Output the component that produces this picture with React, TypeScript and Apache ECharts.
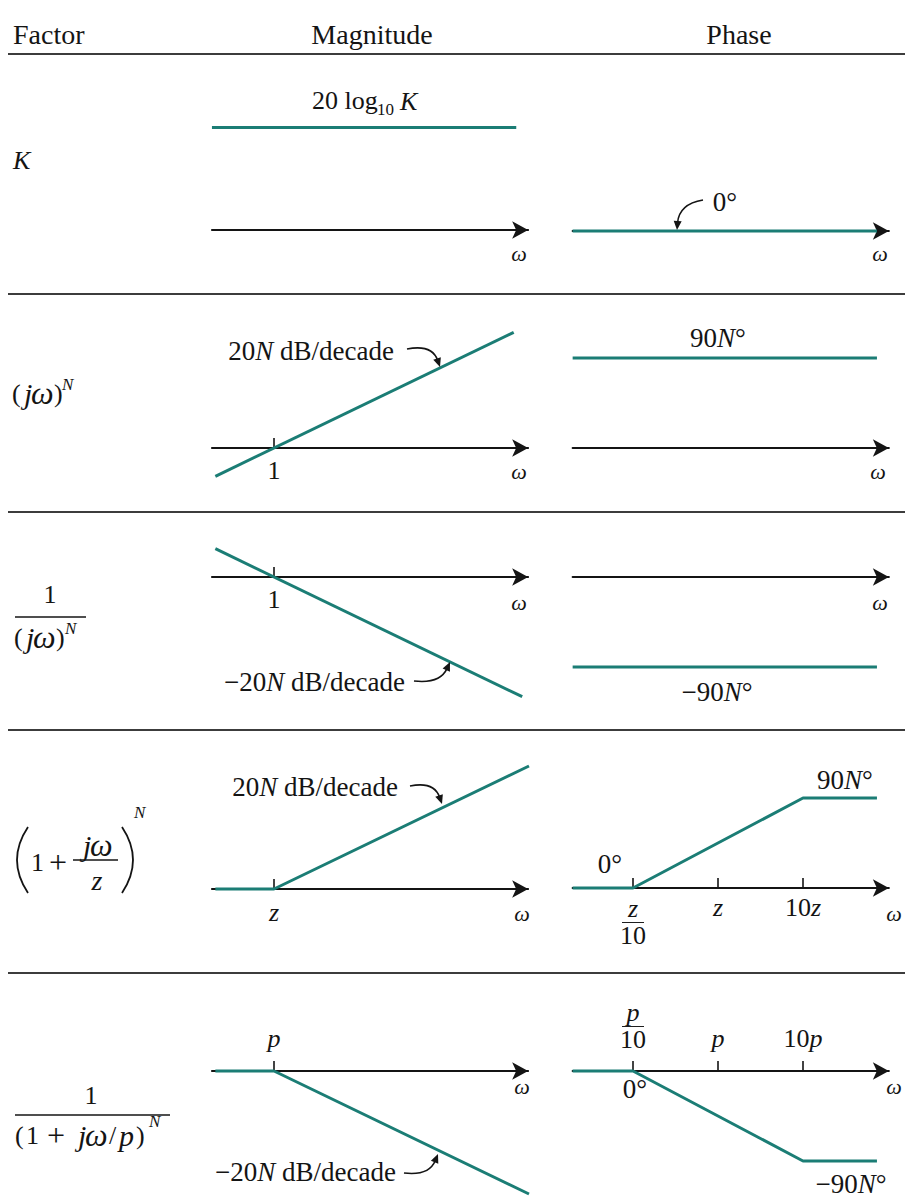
import React, { useEffect, useRef } from 'react';
import * as echarts from 'echarts';

const SERIF = '"Liberation Serif", "Times New Roman", "DejaVu Serif", serif';
const TEAL = '#1b7d75';
const INK = '#141414';
const RULE = '#3c3c3c';

// Column headings
const headings = ['Factor', 'Magnitude', 'Phase'];

// Straight-line Bode asymptotes, drawn for N = 1.
// x: decades relative to the corner frequency (1, z or p); magnitude in dB, phase in degrees.
const gainDb = 50; // 20 log10 K
const magConstant = [[-0.73, gainDb], [2.85, gainDb]];
const magDiff = [[-0.69, -13.8], [2.82, 56.4]];
const magInteg = [[-0.69, 13.8], [2.92, -58.4]];
const magZero = [[-0.69, 0], [0, 0], [3, 60]];
const magPole = [[-0.69, 0], [0, 0], [3, -60]];

const phaseConstant = [[-1.71, 0], [1.87, 0]];
const phaseDiff = [[-1.71, 90], [1.87, 90]];
const phaseInteg = [[-1.71, -90], [1.87, -90]];
const phaseZero = [[-1.71, 0], [-1, 0], [1, 90], [1.87, 90]];
const phasePole = [[-1.71, 0], [-1, 0], [1, -90], [1.87, -90]];

// Tick marks (decades) and their labels
const cornerTick = [0];
const decadeTicks = [-1, 0, 1];
const cornerLabels = ['1', '1', 'z', 'p'];
const zeroDecadeLabels = ['z/10', 'z', '10z'];
const poleDecadeLabels = ['p/10', 'p', '10p'];

// Layout (pixels)
const DECADE_PX = 85;
const DB_PX = 2.05;
const DEG_PX = 1;
const MAG_ORIGIN_X = 274;
const PHASE_ORIGIN_X = 718;
const MAG_X_RANGE = [-0.73, 2.99];
const PHASE_X_RANGE = [-1.71, 2.01];
const MAG_AXIS_Y = [230, 448, 577, 889, 1071];
const PHASE_AXIS_Y = [231, 448, 577, 888, 1071];
const RULES_Y = [54, 294, 512, 730, 973];

type Panel = {
  kind: 'mag' | 'phase';
  row: number;
  data: number[][];
  yMax: number; // the ω axis sits on the grid's bottom edge (value 0)
  ticks?: number[];
  labels?: string[];
  above?: boolean;
  margin?: number;
};

const panels: Panel[] = [
  { kind: 'mag', row: 0, data: magConstant, yMax: 60 },
  { kind: 'phase', row: 0, data: phaseConstant, yMax: 10 },
  { kind: 'mag', row: 1, data: magDiff, yMax: 60, ticks: cornerTick, labels: [cornerLabels[0]], margin: 10 },
  { kind: 'phase', row: 1, data: phaseDiff, yMax: 100 },
  { kind: 'mag', row: 2, data: magInteg, yMax: 20, ticks: cornerTick, labels: [cornerLabels[1]], margin: 10 },
  { kind: 'phase', row: 2, data: phaseInteg, yMax: 10 },
  { kind: 'mag', row: 3, data: magZero, yMax: 62, ticks: cornerTick, labels: [cornerLabels[2]], margin: 11 },
  { kind: 'phase', row: 3, data: phaseZero, yMax: 100, ticks: decadeTicks, labels: zeroDecadeLabels, margin: 7 },
  { kind: 'mag', row: 4, data: magPole, yMax: 10, ticks: cornerTick, labels: [cornerLabels[3]], above: true, margin: 21 },
  { kind: 'phase', row: 4, data: phasePole, yMax: 10, ticks: decadeTicks, labels: poleDecadeLabels, above: true, margin: 21 },
];

// "z/10" -> stacked fraction, "10z" -> upright digits + italic symbol
const toRich = (label: string) => {
  if (label.includes('/')) {
    const [num, den] = label.split('/');
    return `{n|${num}}\n{hr|}\n{d|${den}}`;
  }
  const m = label.match(/^(\d*)([a-z]*)$/);
  const digits = m ? m[1] : label;
  const sym = m ? m[2] : '';
  return (digits ? `{r|${digits}}` : '') + (sym ? `{i|${sym}}` : '');
};

const tickRich = {
  r: { color: INK, fontFamily: SERIF, fontSize: 26, lineHeight: 24 },
  i: { color: INK, fontFamily: SERIF, fontSize: 26, fontStyle: 'italic', lineHeight: 24 },
  n: { color: INK, fontFamily: SERIF, fontSize: 26, fontStyle: 'italic', lineHeight: 26 },
  hr: { width: 22, height: 0, borderColor: INK, borderWidth: 0.8, lineHeight: 3 },
  d: { color: INK, fontFamily: SERIF, fontSize: 26, lineHeight: 22 },
};

const annRich = (size: number) => ({
  r: { fill: INK, fontFamily: SERIF, fontSize: size },
  i: { fill: INK, fontFamily: SERIF, fontSize: size, fontStyle: 'italic' },
});

type TextOpt = { size?: number; italic?: boolean; align?: 'left' | 'center' | 'right'; rich?: any };

const text = (x: number, y: number, s: string, o: TextOpt = {}) => ({
  type: 'text',
  x,
  y,
  silent: true,
  z: 10,
  style: {
    text: s,
    fill: INK,
    fontFamily: SERIF,
    fontSize: o.size ?? 26,
    fontStyle: o.italic ? 'italic' : 'normal',
    align: o.align ?? 'left',
    textAlign: o.align ?? 'left',
    verticalAlign: 'middle',
    textVerticalAlign: 'middle',
    rich: o.rich,
  },
});

const hline = (x1: number, x2: number, y: number, w = 1.5, color = INK) => ({
  type: 'line',
  silent: true,
  z: 10,
  shape: { x1, y1: y, x2, y2: y },
  style: { stroke: color, lineWidth: w },
});

const curve = (x1: number, y1: number, cx: number, cy: number, x2: number, y2: number, w = 1.6) => ({
  type: 'bezierCurve',
  silent: true,
  z: 10,
  shape: { x1, y1, cpx1: cx, cpy1: cy, x2, y2 },
  style: { stroke: INK, lineWidth: w, fill: 'none' },
});

// Curved leader with a filled arrowhead ending at (tx, ty)
const leader = (sx: number, sy: number, cx: number, cy: number, tx: number, ty: number) => {
  const dx = tx - cx;
  const dy = ty - cy;
  const len = Math.hypot(dx, dy);
  const ux = dx / len;
  const uy = dy / len;
  const head = 9;
  const half = 4;
  const bx = tx - ux * head;
  const by = ty - uy * head;
  return [
    curve(sx, sy, cx, cy, bx + ux * 2, by + uy * 2),
    {
      type: 'polygon',
      silent: true,
      z: 10,
      shape: { points: [[tx, ty], [bx - uy * half, by + ux * half], [bx + uy * half, by - ux * half]] },
      style: { fill: INK },
    },
  ];
};

const omega = (x: number, y: number) => text(x, y, 'ω', { size: 22, italic: true, align: 'center' });

const buildOption = () => {
  const grid = panels.map((p) => {
    const mag = p.kind === 'mag';
    const [x0, x1] = mag ? MAG_X_RANGE : PHASE_X_RANGE;
    const ox = mag ? MAG_ORIGIN_X : PHASE_ORIGIN_X;
    const oy = (mag ? MAG_AXIS_Y : PHASE_AXIS_Y)[p.row];
    const k = mag ? DB_PX : DEG_PX;
    return {
      left: ox + x0 * DECADE_PX,
      width: (x1 - x0) * DECADE_PX,
      top: oy - p.yMax * k,
      height: p.yMax * k,
      containLabel: false,
      outerBoundsMode: 'none',
    };
  });

  const xAxis = panels.map((p, i) => {
    const [x0, x1] = p.kind === 'mag' ? MAG_X_RANGE : PHASE_X_RANGE;
    const ticks = p.ticks;
    const labels = p.labels ?? [];
    return {
      gridIndex: i,
      type: 'value',
      position: 'bottom',
      min: x0,
      max: x1,
      splitLine: { show: false },
      axisLine: {
        show: true,
        onZero: false,
        symbol: ['none', 'arrow'],
        symbolSize: [13, 16],
        lineStyle: { color: INK, width: 2 },
      },
      axisTick: ticks
        ? { show: true, inside: true, length: 10, customValues: ticks, lineStyle: { color: INK, width: 1.6 } }
        : { show: false },
      axisLabel: ticks
        ? {
            show: true,
            inside: !!p.above,
            margin: p.margin ?? 8,
            customValues: ticks,
            formatter: (v: number) => toRich(labels[ticks.indexOf(v)] ?? ''),
            rich: tickRich,
          }
        : { show: false },
    };
  });

  const yAxis = panels.map((p, i) => ({
    gridIndex: i,
    type: 'value',
    min: 0,
    max: p.yMax,
    show: false,
  }));

  const series = panels.map((p, i) => ({
    type: 'line',
    xAxisIndex: i,
    yAxisIndex: i,
    data: p.data,
    symbol: 'none',
    showSymbol: false,
    clip: false,
    silent: true,
    z: 3,
    lineStyle: { color: TEAL, width: 3 },
    emphasis: { disabled: true },
  }));

  const r27 = annRich(27);
  const elements: any[] = [
    // headings and rules
    text(13, 34, headings[0], { size: 28 }),
    text(372, 34, headings[1], { size: 28, align: 'center' }),
    text(739, 34, headings[2], { size: 28, align: 'center' }),
    ...RULES_Y.map((y) => hline(8, 905, y, 2, RULE)),

    // row 1: K
    text(13, 160, 'K', { italic: true }),
    text(312, 100, '20 log'),
    text(377, 109, '10', { size: 17 }),
    text(400, 101, 'K', { italic: true }),
    text(725, 202, '0°', { size: 27, align: 'center' }),
    ...leader(703, 200, 679, 204, 677, 230),
    omega(519, 253),
    omega(880, 253),

    // row 2: (jω)^N
    text(12, 393, '('),
    text(24, 393, 'j', { italic: true, size: 30 }),
    text(31, 393, 'ω', { italic: true, size: 32 }),
    text(54, 393, ')'),
    text(62, 384, 'N', { italic: true, size: 17 }),
    text(394, 351, '{r|20}{i|N}{r| dB/decade}', { size: 27, align: 'right', rich: r27 }),
    ...leader(407, 349, 432, 344, 440, 367),
    text(718, 338, '{r|90}{i|N}{r|°}', { size: 27, align: 'center', rich: r27 }),
    omega(519, 471),
    omega(878, 471),

    // row 3: 1/(jω)^N
    text(50, 594, '1', { align: 'center' }),
    hline(15, 86, 617),
    text(14, 637, '('),
    text(26, 637, 'j', { italic: true, size: 30 }),
    text(33, 637, 'ω', { italic: true, size: 32 }),
    text(56, 637, ')'),
    text(65, 628, 'N', { italic: true, size: 17 }),
    text(405, 682, '{r|\u221220}{i|N}{r| dB/decade}', { size: 27, align: 'right', rich: r27 }),
    ...leader(414, 681, 440, 684, 450, 662),
    text(717, 692, '{r|\u221290}{i|N}{r|°}', { size: 27, align: 'center', rich: r27 }),
    omega(519, 602),
    omega(880, 602),

    // row 4: (1 + jω/z)^N
    curve(28, 827, 6, 860, 28, 893, 1.8),
    curve(122, 827, 144, 860, 122, 893, 1.8),
    text(31, 862, '1'),
    text(49, 862, '+', { size: 32 }),
    text(83, 845, 'j', { italic: true, size: 30 }),
    text(90, 845, 'ω', { italic: true, size: 32 }),
    hline(73, 118, 860),
    text(97, 880, 'z', { italic: true, size: 28, align: 'center' }),
    text(134, 812, 'N', { italic: true, size: 17 }),
    text(398, 787, '{r|20}{i|N}{r| dB/decade}', { size: 27, align: 'right', rich: r27 }),
    ...leader(410, 786, 434, 781, 442, 804),
    text(610, 864, '0°', { size: 27, align: 'center' }),
    text(845, 780, '{r|90}{i|N}{r|°}', { size: 27, align: 'center', rich: r27 }),
    omega(522, 913),
    omega(894, 913),

    // row 5: 1/(1 + jω/p)^N
    text(91, 1095, '1', { align: 'center' }),
    hline(15, 170, 1115),
    text(15, 1135, '('),
    text(26, 1135, '1'),
    text(47, 1135, '+', { size: 32 }),
    text(78, 1135, 'j', { italic: true, size: 30 }),
    text(85, 1135, 'ω', { italic: true, size: 32 }),
    text(109, 1135, '/'),
    text(119, 1135, 'p', { italic: true, size: 30 }),
    text(136, 1135, ')'),
    text(149, 1121, 'N', { italic: true, size: 17 }),
    text(396, 1172, '{r|\u221220}{i|N}{r| dB/decade}', { size: 27, align: 'right', rich: r27 }),
    ...leader(404, 1173, 429, 1176, 438, 1154),
    text(635, 1089, '0°', { size: 27, align: 'center' }),
    text(851, 1184, '{r|\u221290}{i|N}{r|°}', { size: 27, align: 'center', rich: r27 }),
    omega(522, 1086),
    omega(894, 1086),
  ];

  return {
    animation: false,
    backgroundColor: '#ffffff',
    grid,
    xAxis,
    yAxis,
    series,
    graphic: { elements },
  };
};

export default function App() {
  const ref = useRef<HTMLDivElement>(null);
  useEffect(() => {
    if (!ref.current) return;
    const chart = echarts.init(ref.current, undefined, { renderer: 'svg' });
    chart.setOption(buildOption() as any);
    return () => chart.dispose();
  }, []);
  return (
    <div
      ref={ref}
      style={{ position: 'absolute', left: 0, top: 0, width: 905, height: 1199, background: '#ffffff' }}
    />
  );
}
